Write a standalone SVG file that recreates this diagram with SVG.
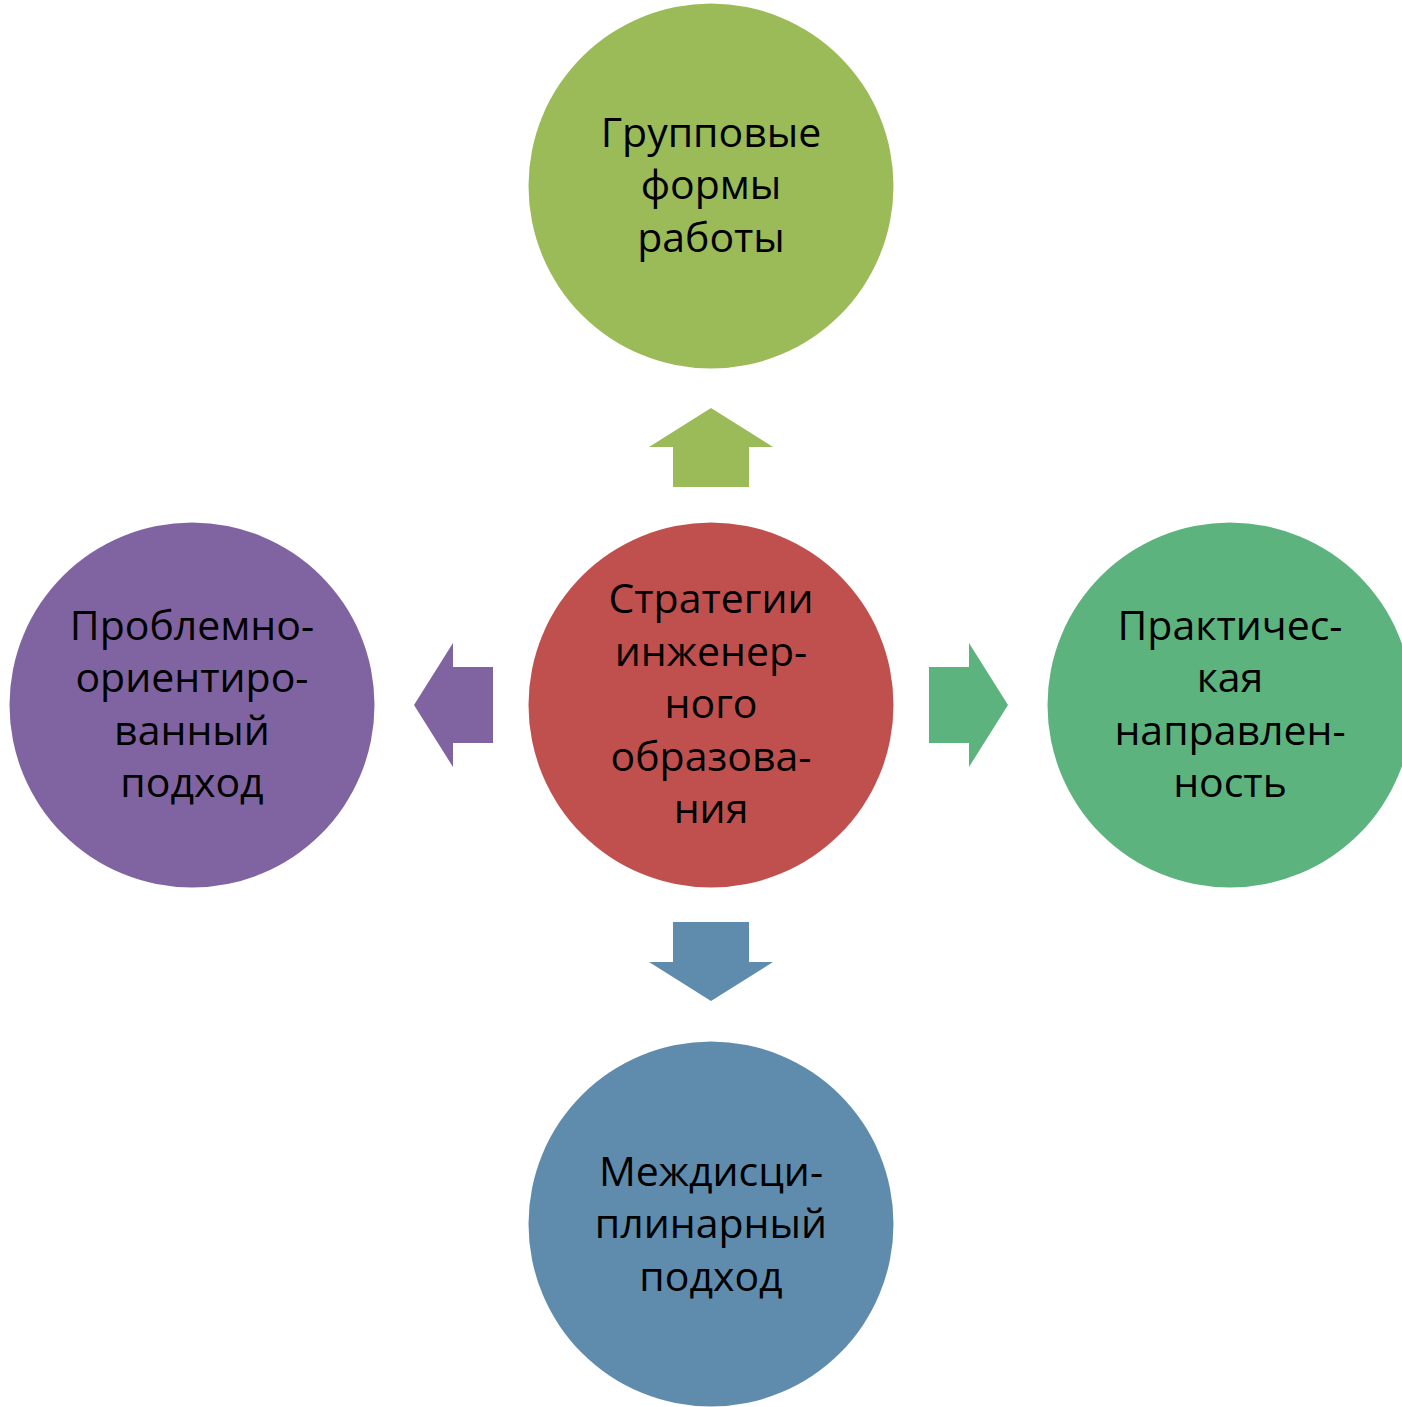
<svg xmlns="http://www.w3.org/2000/svg" width="1402" height="1407" viewBox="0 0 1402 1407">
<style>
.t{font-family:"Open Sans","Liberation Sans",sans-serif;font-size:41px;fill:#000;text-anchor:middle}
</style>
<rect width="1402" height="1407" fill="#fff"/>
<g id="connectors">
<polygon id="arrow-up" fill="#9BBB59" points="711,408 773,447 749,447 749,487 673,487 673,447 649,447"/>
<polygon id="arrow-down" fill="#5F8CAD" points="711,1001 773,962 749,962 749,922 673,922 673,962 649,962"/>
<polygon id="arrow-left" fill="#8064A2" points="414,705 453,643 453,667 493,667 493,743 453,743 453,767"/>
<polygon id="arrow-right" fill="#5DB37E" points="1008,705 969,643 969,667 929,667 929,743 969,743 969,767"/>
</g>
<g id="node-top">
<circle cx="711" cy="186" r="182.5" fill="#9BBB59"/>
<text class="t" x="711" y="147">Групповые</text>
<text class="t" x="711" y="199">формы</text>
<text class="t" x="711" y="252">работы</text>
</g>
<g id="node-center">
<circle cx="711" cy="705" r="182.5" fill="#C0504D"/>
<text class="t" x="711" y="613">Стратегии</text>
<text class="t" x="711" y="666">инженер-</text>
<text class="t" x="711" y="718">ного</text>
<text class="t" x="711" y="771">образова-</text>
<text class="t" x="711" y="823">ния</text>
</g>
<g id="node-right">
<circle cx="1230" cy="705" r="182.5" fill="#5DB37E"/>
<text class="t" x="1230" y="640">Практичес-</text>
<text class="t" x="1230" y="692">кая</text>
<text class="t" x="1230" y="745">направлен-</text>
<text class="t" x="1230" y="797">ность</text>
</g>
<g id="node-left">
<circle cx="192" cy="705" r="182.5" fill="#8064A2"/>
<text class="t" x="192" y="640">Проблемно-</text>
<text class="t" x="192" y="692">ориентиро-</text>
<text class="t" x="192" y="745">ванный</text>
<text class="t" x="192" y="797">подход</text>
</g>
<g id="node-bottom">
<circle cx="711" cy="1224" r="182.5" fill="#5F8CAD"/>
<text class="t" x="711" y="1186">Междисци-</text>
<text class="t" x="711" y="1238">плинарный</text>
<text class="t" x="711" y="1291">подход</text>
</g>
</svg>
